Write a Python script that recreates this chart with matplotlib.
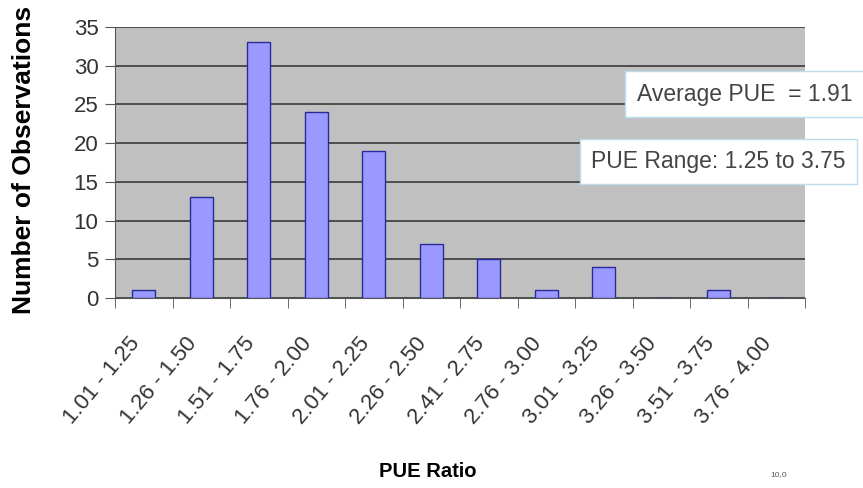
import matplotlib
matplotlib.use("Agg")
import matplotlib.pyplot as plt
import matplotlib.transforms as mtransforms
import numpy as np

plt.rcParams['font.family'] = ['Liberation Sans', 'DejaVu Sans']

categories = ["1.01 - 1.25", "1.26 - 1.50", "1.51 - 1.75", "1.76 - 2.00",
              "2.01 - 2.25", "2.26 - 2.50", "2.41 - 2.75", "2.76 - 3.00",
              "3.01 - 3.25", "3.26 - 3.50", "3.51 - 3.75", "3.76 - 4.00"]
counts = [1, 13, 33, 24, 19, 7, 5, 1, 4, 0, 1, 0]
y_ticks = [0, 5, 10, 15, 20, 25, 30, 35]

fig = plt.figure(figsize=(8.63, 4.88), dpi=100)
ax = fig.add_axes([0.1333, 0.3893, 0.7995, 0.5554])
ax.set_facecolor('#C0C0C0')

x = np.arange(len(categories))
ax.bar(x, counts, width=0.4, color='#9999FF', edgecolor='#2A2A9A', linewidth=1.0, zorder=3)

ax.set_xlim(-0.5, len(categories) - 0.5)
ax.set_ylim(0, 35)
ax.set_yticks(y_ticks)
ax.set_yticklabels([str(v) for v in y_ticks], fontsize=16, color='#333333')
ax.yaxis.grid(True, color='#3A3A3A', linewidth=1.2, zorder=1)
ax.set_axisbelow(True)

ax.set_xticks(x)
ax.set_xticklabels(categories, rotation=50, ha='right', va='center', rotation_mode='anchor',
                   fontsize=16, color='#333333')
ax.tick_params(axis='x', length=0, pad=30)
offset = mtransforms.ScaledTranslation(-8 / 100, 0, fig.dpi_scale_trans)
for lbl in ax.get_xticklabels():
    lbl.set_transform(lbl.get_transform() + offset)
ax.set_xticks(np.arange(-0.5, len(categories)), minor=True)
ax.tick_params(axis='x', which='minor', length=7, direction='out', color='#555555')
ax.tick_params(axis='y', length=7, direction='out', color='#555555', pad=5)

for s in ['top', 'right']:
    ax.spines[s].set_visible(False)
ax.spines['left'].set_color('#555555')
ax.spines['bottom'].set_color('#555555')

fig.text(0.028, 0.672, 'Number of Observations', fontsize=19, fontweight='bold',
         rotation=90, ha='center', va='center')
fig.text(0.496, 0.033, 'PUE Ratio', fontsize=14.5, fontweight='bold', ha='center', va='center')

fig.text(0.738, 0.807, 'Average PUE  = 1.91', fontsize=16.5, color='#444444', ha='left', va='center',
         bbox=dict(boxstyle='square,pad=0.5', facecolor='white', edgecolor='#BBDDEE', linewidth=1))
fig.text(0.685, 0.669, 'PUE Range: 1.25 to 3.75', fontsize=16.5, color='#444444', ha='left', va='center',
         bbox=dict(boxstyle='square,pad=0.5', facecolor='white', edgecolor='#BBDDEE', linewidth=1))

fig.text(0.893, 0.02, '10,0', fontsize=6, color='#555555', ha='left', va='bottom')

fig.savefig('out.png', dpi=100)
